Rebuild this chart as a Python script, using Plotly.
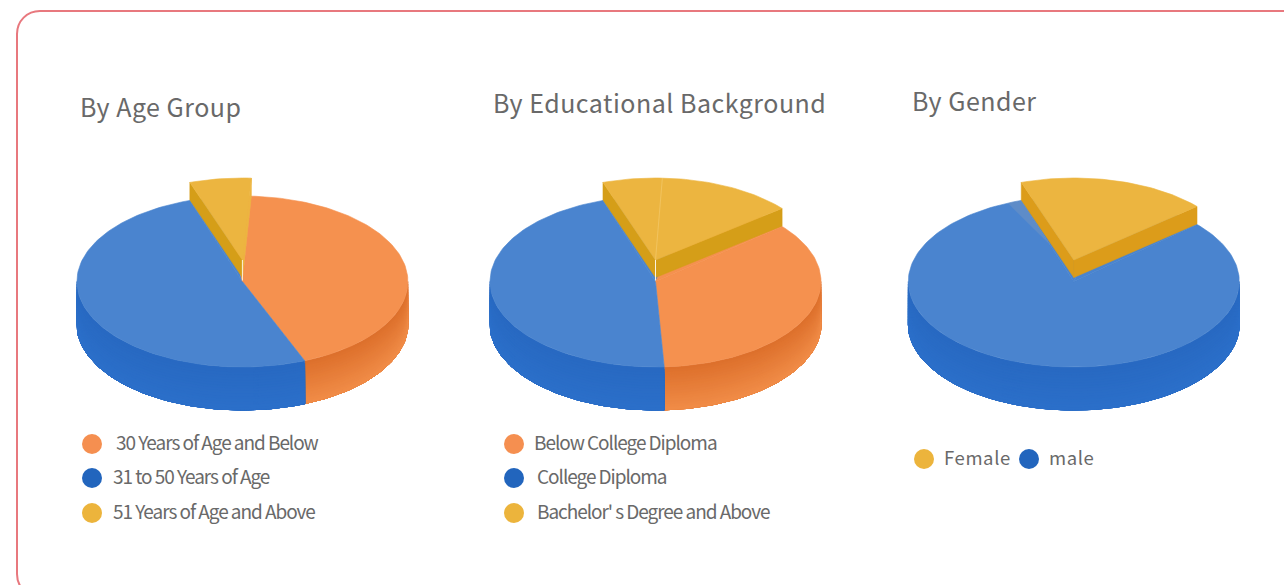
import math
import plotly.graph_objects as go

# Shares, in percent, going clockwise from the raised slice
age_labels = ["30 Years of Age and Below", "31 to 50 Years of Age", "51 Years of Age and Above"]
age_values = [43.0, 51.0, 6.0]

edu_labels = ["Below College Diploma", "College Diploma", "Bachelor' s Degree and Above"]
edu_values = [35.3, 45.7, 19.0]
edu_raised_parts = [5.8, 13.2]

gender_labels = ["Female", "male"]
gender_values = [18.5, 81.5]

titles = ["By Age Group", "By Educational Background", "By Gender"]

ORANGE = dict(top="#F5914F", wall_top="#DD702C", wall_bottom="#F08B46", dot="#F58F50")
BLUE = dict(top="#4A84CF", wall_top="#2869C2", wall_bottom="#2B6FC9", dot="#2265BD")
YELLOW = dict(top="#ECB540", wall_top="#D59E18", wall_bottom="#D59E18", dot="#ECB43C")
AMBER = dict(top="#ECB540", wall_top="#DC9C1A", wall_bottom="#DC9C1A", dot="#ECB43C")
TEXT = "#696969"

RX, RY, DEPTH = 165.5, 85.5, 43.0
CY = 281.5
LIFT, RAISED_H = 18.0, 17.5
APEX_RISE = 3.5
START = -18.5
BANDS = 16


def point(cx, cy, deg, frac=1.0):
    a = math.radians(deg)
    return cx + frac * RX * math.sin(a), cy - frac * RY * math.cos(a)


def arc(cx, cy, a0, a1):
    n = max(2, int(abs(a1 - a0) / 1.5) + 1)
    return [point(cx, cy, a0 + (a1 - a0) * i / (n - 1)) for i in range(n)]


def mix(c0, c1, t):
    a = [int(c0[i:i + 2], 16) for i in (1, 3, 5)]
    b = [int(c1[i:i + 2], 16) for i in (1, 3, 5)]
    return "rgb({},{},{})".format(*[round(x + (y - x) * t) for x, y in zip(a, b)])


fig = go.Figure()


def polygon(pts, color, line=None):
    fig.add_trace(go.Scatter(
        x=[p[0] for p in pts] + [pts[0][0]],
        y=[p[1] for p in pts] + [pts[0][1]],
        mode="lines", fill="toself", fillcolor=color,
        line=dict(width=0.6, color=line or color),
        hoverinfo="skip", showlegend=False,
    ))


def stroke(p0, p1, color, width):
    fig.add_trace(go.Scatter(
        x=[p0[0], p1[0]], y=[p0[1], p1[1]], mode="lines",
        line=dict(width=width, color=color),
        hoverinfo="skip", showlegend=False,
    ))


def wall(cx, a0, a1, style):
    # Front wall of a slice, painted as stacked bands for the vertical shading
    lo, hi = max(a0, 90), min(a1, 270)
    if lo >= hi:
        return
    for k in range(BANDS):
        off = DEPTH * k / BANDS
        pts = arc(cx, CY + off, lo, hi) + arc(cx, CY + DEPTH, hi, lo)
        polygon(pts, mix(style["wall_top"], style["wall_bottom"], k / (BANDS - 1)))


def face(cx, a0, a1, color):
    polygon([(cx, CY)] + arc(cx, CY, a0, a1), color)


def raised(cx, a0, a1, style, seam_angle=None, pale_edge=True):
    cy = CY - LIFT
    apex = (cx, cy - APEX_RISE)
    apex_low = (cx, cy - APEX_RISE + RAISED_H)
    side = style["wall_top"]
    l_out = point(cx, cy, a0)
    polygon([apex, l_out, (l_out[0], l_out[1] + RAISED_H), apex_low], side)
    r_out = point(cx, cy, a1)
    # A cut face turned almost edge-on takes the colour of the top
    r_color = side if a1 > 15 else style["top"]
    polygon([apex, r_out, (r_out[0], r_out[1] + RAISED_H), apex_low], r_color)
    polygon([apex] + arc(cx, cy, a0, a1), style["top"])
    if seam_angle is not None:
        stroke(apex, point(cx, cy, seam_angle), "#F2C766", 0.8)
    if pale_edge:
        stroke(apex, (cx, apex_low[1] + 3), "#FBF3DF", 1.0)


def pie(cx, shares, styles, seam_share=None, pale_edge=True):
    # Shares run clockwise from START; the last one is the raised slice
    angles = [START]
    for s in [shares[-1]] + shares[:-1]:
        angles.append(angles[-1] + s * 3.6)
    order = [styles[-1]] + styles[:-1]
    for i in range(1, len(order)):
        wall(cx, angles[i], angles[i + 1], order[i])
    for i in range(1, len(order)):
        face(cx, angles[i], angles[i + 1], order[i]["top"])
    # The gap left under the raised slice takes the colours of its neighbours
    mid = (angles[0] + angles[1]) / 2
    face(cx, angles[0], mid, order[-1]["top"])
    face(cx, mid, angles[1], order[1]["top"])
    if not pale_edge:
        # Soft cast shadow beside the raised slice
        polygon([point(cx, CY, START - 5), point(cx, CY, START), point(cx, CY, START, 0.45)],
                "rgba(175,175,175,0.2)", "rgba(175,175,175,0)")
    seam = START + seam_share * 3.6 if seam_share else None
    raised(cx, angles[0], angles[1], styles[-1], seam, pale_edge)


def label(x, y, text, size):
    fig.add_trace(go.Scatter(
        x=[x], y=[y], mode="text", text=[text], textposition="middle right",
        textfont=dict(family="Noto Sans CJK SC", size=size, color=TEXT),
        hoverinfo="skip", showlegend=False,
    ))


def dot(x, y, color):
    fig.add_trace(go.Scatter(
        x=[x], y=[y], mode="markers",
        marker=dict(size=20, color=color, line=dict(width=0)),
        hoverinfo="skip", showlegend=False,
    ))


pie(242.4, age_values, [ORANGE, BLUE, YELLOW])
pie(655.5, edu_values, [ORANGE, BLUE, YELLOW], seam_share=edu_raised_parts[0])

# Gender pie: the raised slice sits on the large blue disc
pie(1073.8, [gender_values[1], gender_values[0]], [BLUE, AMBER], pale_edge=False)

for (x, y, c, lx, t) in zip([92, 92, 92], [444, 478, 513], [ORANGE, BLUE, YELLOW], [116, 113, 113], age_labels):
    dot(x, y, c["dot"])
    label(lx, y + 1.5, t, 19)
for (x, y, c, lx, t) in zip([514, 514, 514], [444, 478, 513], [ORANGE, BLUE, YELLOW], [534, 537, 537], edu_labels):
    dot(x, y, c["dot"])
    label(lx, y + 1.5, t, 19)
for (x, c, lx, t) in zip([924, 1029], [YELLOW, BLUE], [944, 1049], gender_labels):
    dot(x, 459, c["dot"])
    label(lx, 460, t, 18.5)

for (x, y, t) in zip([80, 493, 912], [110.5, 106.5, 104.5], titles):
    label(x, y, t, 25)

frame = "M 17 34 C 17 21 27 11 40 11 L 1320 11 L 1320 597 L 40 597 C 27 597 17 587 17 574 Z"
fig.update_layout(
    width=1284, height=585, margin=dict(l=0, r=0, t=0, b=0),
    paper_bgcolor="white", plot_bgcolor="white", showlegend=False,
    xaxis=dict(range=[0, 1284], visible=False, fixedrange=True),
    yaxis=dict(range=[585, 0], visible=False, fixedrange=True),
    shapes=[dict(type="path", path=frame, xref="x", yref="y",
                 line=dict(color="#E8787E", width=2), fillcolor="rgba(0,0,0,0)", layer="below")],
)

# Tracking for the title and legend type, which the text traces cannot set themselves
spacing = """
document.querySelectorAll('.textpoint text').forEach(function (t) {
  var s = parseFloat(t.style.fontSize);
  var isGender = t.textContent === 'Female' || t.textContent === 'male';
  t.style.letterSpacing = s > 22 ? '0.5px' : (isGender ? '0.6px' : '-1.05px');
});
"""
fig.write_html("out.html", post_script=spacing, config=dict(displayModeBar=False))
